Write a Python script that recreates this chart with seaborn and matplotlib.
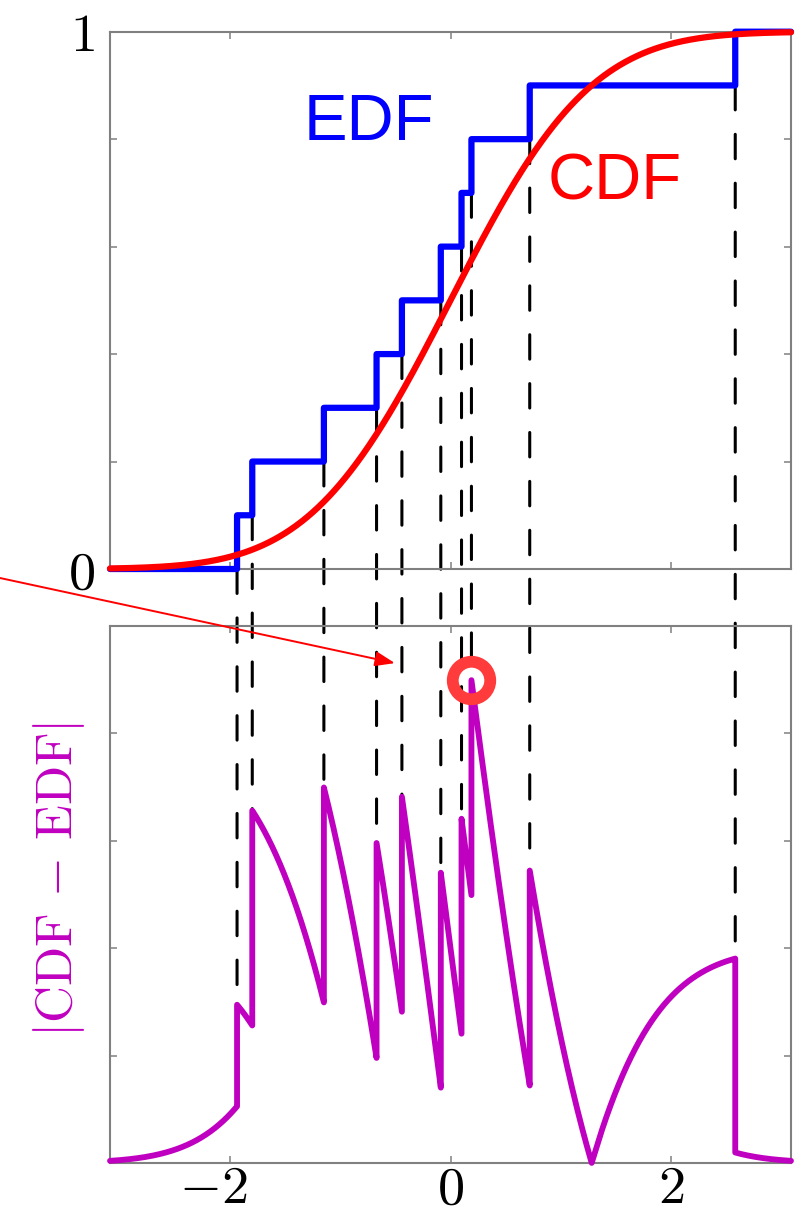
import numpy as np
import matplotlib
matplotlib.use("Agg")
import matplotlib.pyplot as plt
import matplotlib.transforms as mtransforms
import seaborn as sns
from matplotlib.patches import ConnectionPatch
from math import erf, sqrt

# ---------------- data ----------------
samples = [-1.937, -1.799, -1.149, -0.671, -0.441, -0.088, 0.100, 0.190, 0.719, 2.584]
x_limits = [-3.09, 3.09]
x_ticks = [-2, 0, 2]
x_ticklabels = [r"$-2$", r"$0$", r"$2$"]
top_yticks = [0, 0.2, 0.4, 0.6, 0.8, 1.0]
top_yticklabels = ["$0$", "", "", "", "", "$1$"]
diff_ylim = [0, 0.25]
diff_yticks = [0, 0.05, 0.10, 0.15, 0.20, 0.25]
edf_label = "EDF"
cdf_label = "CDF"
diff_label = r"$|\mathrm{CDF}\,-\,\mathrm{EDF}|$"

BLUE = "#0000ff"
RED = "#ff0000"
MAG = "#c000c0"
GREY = "#808080"

sns.set_style("white")
plt.rcParams["mathtext.fontset"] = "cm"
plt.rcParams["font.family"] = ["Liberation Sans", "DejaVu Sans"]

ncdf = np.vectorize(lambda v: 0.5 * (1.0 + erf(v / sqrt(2.0))))

s = np.sort(np.array(samples))
n = len(s)
bounds = np.concatenate([[x_limits[0]], s, [x_limits[1]]])
xs_list, edf_list = [], []
for k in range(len(bounds) - 1):
    seg = np.linspace(bounds[k], bounds[k + 1], 200)
    xs_list.append(seg)
    edf_list.append(np.full_like(seg, k / n))
xs = np.concatenate(xs_list)
edf = np.concatenate(edf_list)
cdf_vals = ncdf(xs)
diff = np.abs(cdf_vals - edf)

grid = np.linspace(x_limits[0], x_limits[1], 1500)
cdf_grid = ncdf(grid)

# ---------------- figure ----------------
fig = plt.figure(figsize=(8.06, 12.12), dpi=100)
ax1 = fig.add_axes([110 / 806, 1 - 569 / 1212, 681 / 806, 537.3 / 1212])
ax2 = fig.add_axes([110 / 806, 1 - 1163 / 1212, 681 / 806, 537.3 / 1212])
ax2.patch.set_visible(False)

sns.lineplot(x=xs, y=edf, ax=ax1, estimator=None, sort=False, color=BLUE,
             linewidth=4.5, clip_on=False, zorder=3)
sns.lineplot(x=grid, y=cdf_grid, ax=ax1, estimator=None, sort=False, color=RED,
             linewidth=4.5, clip_on=False, zorder=4)
sns.lineplot(x=xs, y=diff, ax=ax2, estimator=None, sort=False, color=MAG,
             linewidth=4.2, clip_on=False, zorder=3)

for ax in (ax1, ax2):
    ax.set_xlim(*x_limits)
    ax.set_xticks(x_ticks)
    for sp in ax.spines.values():
        sp.set_visible(True)
        sp.set_color(GREY)
        sp.set_linewidth(1.5)
    ax.tick_params(direction="in", length=5, width=1.1, color=GREY,
                   top=True, right=True, bottom=True, left=True,
                   labelsize=39, labelcolor="black")
    ax.set_xlabel("")
    ax.set_ylabel("")
    ax.grid(False)

ax1.set_ylim(0, 1)
ax1.set_yticks(top_yticks)
ax1.set_yticklabels(top_yticklabels)
ax1.tick_params(axis="x", labelbottom=False)
ax1.tick_params(axis="y", pad=11)

ax2.set_ylim(*diff_ylim)
ax2.set_yticks(diff_yticks)
ax2.tick_params(axis="y", labelleft=False)
ax2.set_xticklabels(x_ticklabels)
ax2.tick_params(axis="x", pad=1)
# shift "-2" so that its digit sits under the tick
lab0 = ax2.get_xticklabels()[0]
lab0.set_transform(lab0.get_transform() +
                   mtransforms.ScaledTranslation(-0.17, 0, fig.dpi_scale_trans))

# labels
ax1.text(-0.74, 0.798, edf_label, color=BLUE, fontsize=47, ha="center",
         va="baseline", family="Liberation Sans")
ax1.text(1.49, 0.687, cdf_label, color=RED, fontsize=47, ha="center",
         va="baseline", family="Liberation Sans")
fig.text(59 / 806, 1 - 880 / 1212, diff_label, color=MAG, fontsize=37,
         rotation=90, ha="center", va="center")

# dashed connectors
for k, sv in enumerate(s):
    c = float(ncdf(sv))
    d_left = abs(c - k / n)
    d_right = abs(c - (k + 1) / n)
    con = ConnectionPatch(xyA=(sv, k / n), coordsA=ax1.transData,
                          xyB=(sv, max(d_left, d_right)), coordsB=ax2.transData,
                          color="black", linewidth=2.2, linestyle=(0, (8, 8)),
                          zorder=2)
    ax1.add_artist(con)
    con.set_clip_on(False)

# max deviation ring
imax = int(np.argmax(diff))
ax2.plot([xs[imax]], [diff[imax]], marker="o", markersize=27, markerfacecolor="none",
         markeredgecolor="#ff3b3b", markeredgewidth=8.5, clip_on=False, zorder=5)

# arrow
ax2.annotate("", xy=(-0.505, 0.2326), xycoords="data",
             xytext=(0, 634), textcoords="figure pixels",
             arrowprops=dict(arrowstyle="-|>,head_length=0.8,head_width=0.3",
                             color=RED, lw=1.4, mutation_scale=15,
                             shrinkA=0, shrinkB=0),
             annotation_clip=False)

fig.savefig("out.png", dpi=100)
